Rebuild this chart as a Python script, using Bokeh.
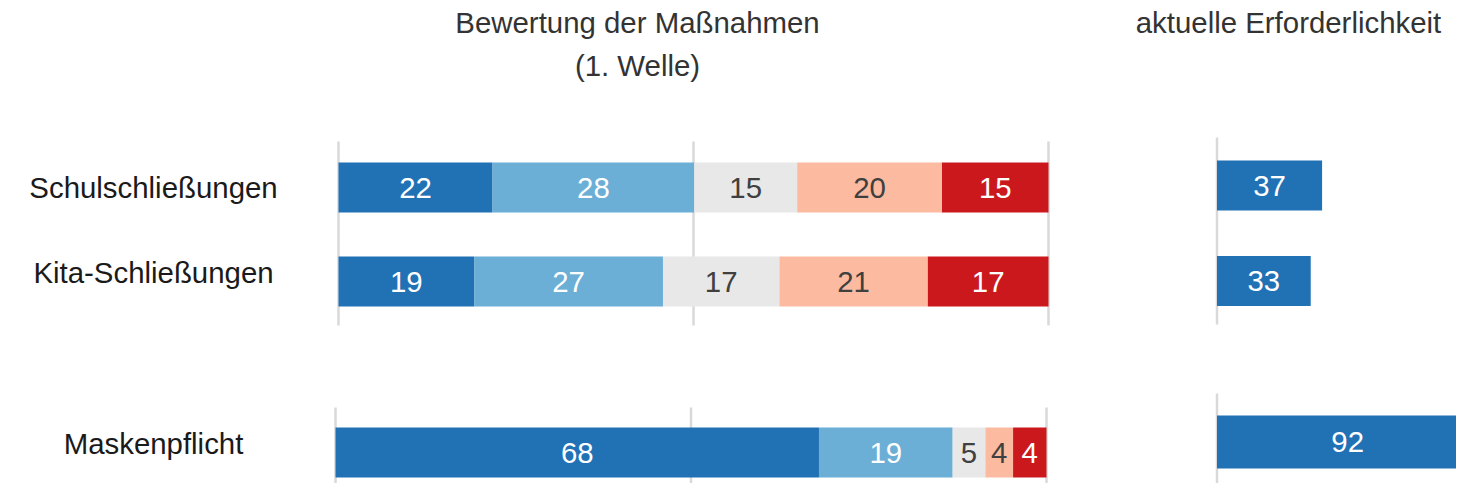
from bokeh.plotting import figure
from bokeh.models import Range1d, ColumnDataSource
from bokeh.core.properties import value
from bokeh.embed import file_html
from bokeh.resources import INLINE

# ---------------- data ----------------
categories = ["Schulschließungen", "Kita-Schließungen", "Maskenpflicht"]
# bar shares (percent)
rating_1 = [21.7, 19.1, 68.0]   # dark blue
rating_2 = [28.4, 26.6, 18.8]   # light blue
rating_3 = [14.5, 16.4, 4.6]    # grey
rating_4 = [20.4, 20.9, 3.9]    # salmon
rating_5 = [15.0, 17.0, 4.7]    # red
# printed (rounded) labels as shown in the chart
label_1 = [22, 19, 68]
label_2 = [28, 27, 19]
label_3 = [15, 17, 5]
label_4 = [20, 21, 4]
label_5 = [15, 17, 4]
necessity = [37, 33, 92]
grid_values_left = [0, 50, 100]
grid_values_right = [0]
title_left = ["Bewertung der Maßnahmen", "(1. Welle)"]
title_right = "aktuelle Erforderlichkeit"

# ---------------- styles / layout ----------------
level_colors = ["#2171b5", "#6baed6", "#e8e8e8", "#fcbba1", "#cb181d"]
level_text_colors = ["#ffffff", "#ffffff", "#404040", "#404040", "#ffffff"]
FONT = value("Liberation Sans")
FS = "29.4px"

W, H, OFF = 1456, 483, 0          # figure size; screenshot origin offset
# pixel positions in reference coordinates
left_rows_y = [187, 281, 452]
left_rows_h = [50, 50, 50]
right_rows_y = [185, 280.5, 441.5]
right_rows_h = [50, 50, 53]
label_y = [187, 272, 443]
label_x = 153
panel_top = dict(px0=338, ppu=7.10)
panel_bot = dict(px0=335, ppu=7.11)
panel_right = dict(px0=1216.5, ppu=2.84)
grid_top_span = (141, 325)
grid_bot_span = (407, 499)
gridr_top_span = (137, 324)
gridr_bot_span = (393, 490)


def prange(px0, ppu):
    return Range1d((OFF - px0) / ppu, (OFF + W - px0) / ppu)


p = figure(width=W, height=H,
           x_range=Range1d(OFF, OFF + W), y_range=Range1d(OFF + H, OFF),
           x_axis_type=None, y_axis_type=None,
           output_backend="svg", toolbar_location=None,
           min_border=0, outline_line_color=None)
p.grid.visible = False
p.extra_x_ranges = {
    "top": prange(**panel_top),
    "bot": prange(**panel_bot),
    "right": prange(**panel_right),
}

GRID = "#d9d9d9"
# gridlines
for rng, span in (("top", grid_top_span), ("bot", grid_bot_span)):
    p.segment(x0=grid_values_left, x1=grid_values_left,
              y0=[span[0]] * len(grid_values_left), y1=[span[1]] * len(grid_values_left),
              line_color=GRID, line_width=2.5, x_range_name=rng)
for span in (gridr_top_span, gridr_bot_span):
    p.segment(x0=grid_values_right, x1=grid_values_right,
              y0=[span[0]], y1=[span[1]],
              line_color=GRID, line_width=2.5, x_range_name="right")

# stacked bars
ratings = [rating_1, rating_2, rating_3, rating_4, rating_5]
labels = [label_1, label_2, label_3, label_4, label_5]
for rows, rng in (([0, 1], "top"), ([2], "bot")):
    d = dict(left=[], right=[], y=[], h=[], color=[], mid=[], lab=[], tcol=[])
    for r in rows:
        cum = 0
        for k, series in enumerate(ratings):
            v = series[r]
            d["left"].append(cum)
            d["right"].append(cum + v)
            d["mid"].append(cum + v / 2)
            d["y"].append(left_rows_y[r])
            d["h"].append(left_rows_h[r])
            d["color"].append(level_colors[k])
            d["lab"].append(str(labels[k][r]))
            d["tcol"].append(level_text_colors[k])
            cum += v
    src = ColumnDataSource(d)
    p.hbar(y="y", left="left", right="right", height="h", fill_color="color",
           line_color=None, source=src, x_range_name=rng)
    p.text(x="mid", y="y", text="lab", text_color="tcol", text_align="center",
           text_baseline="middle", text_font=FONT, text_font_size=FS,
           source=src, x_range_name=rng)

# right panel bars
rsrc = ColumnDataSource(dict(
    y=right_rows_y, h=right_rows_h, right=necessity,
    mid=[v / 2 for v in necessity], lab=[str(v) for v in necessity]))
p.hbar(y="y", left=0, right="right", height="h", fill_color=level_colors[0],
       line_color=None, source=rsrc, x_range_name="right")
p.text(x="mid", y="y", text="lab", text_color="#ffffff", text_align="center",
       text_baseline="middle", text_font=FONT, text_font_size=FS,
       source=rsrc, x_range_name="right")

# row labels
p.text(x=[label_x] * 3, y=label_y, text=categories, text_color="#1a1a1a",
       text_align="center", text_baseline="middle", text_font=FONT,
       text_font_size=FS)

# titles
p.text(x=[637, 637], y=[22, 65], text=title_left, text_color="#333333",
       text_align="center", text_baseline="middle", text_font=FONT,
       text_font_size=FS)
p.text(x=[1288], y=[22], text=[title_right], text_color="#333333",
       text_align="center", text_baseline="middle", text_font=FONT,
       text_font_size=FS)

open("out.html", "w").write(file_html(p, INLINE))
